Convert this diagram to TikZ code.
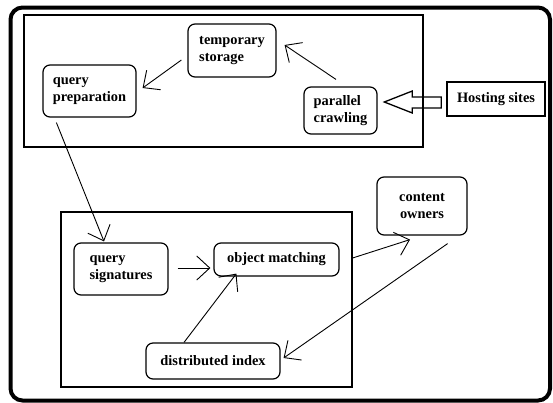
\documentclass[tikz,border=0pt]{standalone}
\usepackage{fontspec}
\setmainfont{Liberation Serif}
\usetikzlibrary{arrows.meta,calc}
\begin{document}
\begin{tikzpicture}[x=1pt,y=-1pt,
  box/.style={draw,rounded corners=7pt,line width=1.2pt,font=\bfseries\fontsize{14.4}{17.5}\selectfont,align=left,inner sep=0pt},
  sbox/.style={draw,line width=1.4pt,font=\bfseries\fontsize{14.4}{17.5}\selectfont,inner sep=0pt},
  frame/.style={draw,line width=1.4pt},
  arr/.style={line width=0.9pt,-{Straight Barb[length=13pt,width=24pt]}}]
\useasboundingbox (0,0) rectangle (553,402);
\draw[line width=4pt,rounded corners=12pt] (10.5,7.5) rectangle (550,400.5);
\draw[frame] (24,15) rectangle (423,147);
\draw[frame] (61,212) rectangle (352,387);
\node[box,minimum width=88pt,minimum height=53pt] (ts) at (232,50.5) {temporary\\storage};
\node[box,minimum width=93pt,minimum height=52pt] (qp) at (89.5,91) {query\\preparation};
\node[box,minimum width=73pt,minimum height=47pt] (pc) at (340.5,110.5) {parallel\\crawling};
\node[sbox,minimum width=98pt,minimum height=34pt] (hs) at (496,99) {Hosting sites};
\node[box,minimum width=94pt,minimum height=52pt] (qs) at (121,269) {query\\signatures};
\node[box,minimum width=125pt,minimum height=33pt] (om) at (276.5,259.5) {object matching};
\node[box,minimum width=134pt,minimum height=36pt] (di) at (213,361) {distributed index};
\node[box,align=center,minimum width=90pt,minimum height=58pt] (co) at (422,206) {content\\owners};
\draw[line width=1.3pt,line join=miter] ($(hs.west)+(-5,-2)$) -- ++(-29,0) -- ++(0,-6) -- ++(-28,11) -- ++(28,11) -- ++(0,-5) -- ++(29,0) -- cycle;
\draw[arr] ($(ts.west)+(-6,9.5)$) -- ($(qp.east)+(6,-3)$);
\draw[arr] ($(pc.north)+(-4.5,-7)$) -- ($(ts.east)+(8,-5.5)$);
\draw[arr] ($(qp.south west)+(14,5)$) -- ($(qs.north)+(-17,-1)$);
\draw[arr] ($(qs.east)+(9,-1)$) -- ($(om.west)+(-3,8.5)$);
\draw[arr] ($(di.north)+(-29,0)$) -- ($(om.south west)+(23,-3)$);
\draw[arr] ($(om.east)+(13,-1.5)$) -- ($(co.south)+(-12,4)$);
\draw[arr] ($(co.south east)+(-20,8)$) -- ($(di.east)+(3,-3)$);
\end{tikzpicture}
\end{document}
